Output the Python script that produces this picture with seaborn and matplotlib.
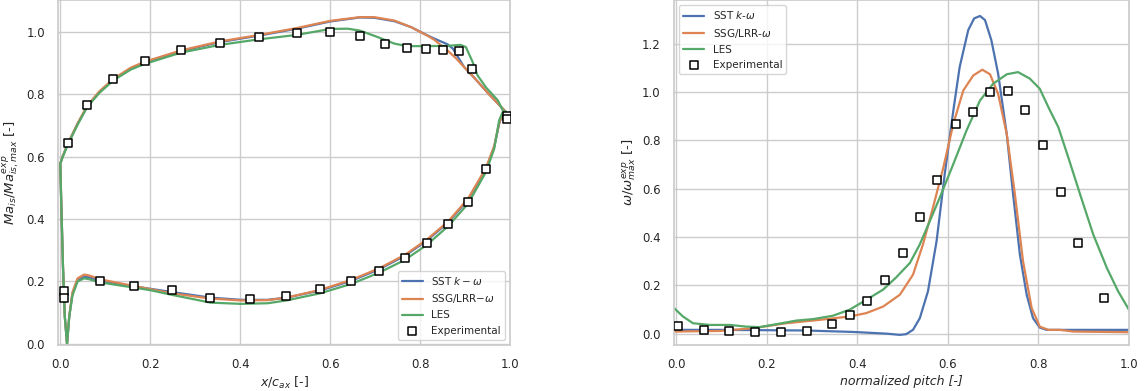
import numpy as np
import pandas as pd
import matplotlib
matplotlib.use("Agg")
import matplotlib.pyplot as plt
import seaborn as sns

# ---------------- Left panel data: isentropic Mach number ----------------
sst_ma_x = [0.991, 0.973, 0.950, 0.921, 0.898, 0.873, 0.861, 0.832, 0.817, 0.780, 0.743, 0.698, 0.666,
            0.600, 0.526, 0.443, 0.355, 0.268, 0.188, 0.157, 0.118, 0.087, 0.060, 0.0385, 0.017, 0.005, 0.0,
            0.002, 0.006, 0.010, 0.015, 0.020, 0.027, 0.0385, 0.053, 0.0645, 0.088, 0.165, 0.248, 0.334,
            0.402, 0.461, 0.503, 0.578, 0.647, 0.709, 0.766, 0.815, 0.863, 0.907, 0.947, 0.965, 0.976,
            0.984, 0.991]
sst_ma_y = [0.744, 0.771, 0.806, 0.853, 0.888, 0.947, 0.961, 0.979, 0.989, 1.016, 1.035, 1.046, 1.047,
            1.034, 1.011, 0.989, 0.968, 0.939, 0.903, 0.884, 0.848, 0.808, 0.762, 0.706, 0.642, 0.600, 0.578,
            0.461, 0.248, 0.088, 0.0, 0.088, 0.160, 0.205, 0.215, 0.213, 0.203, 0.184, 0.166, 0.148,
            0.141, 0.141, 0.148, 0.171, 0.202, 0.239, 0.282, 0.331, 0.390, 0.463, 0.562, 0.632, 0.706,
            0.739, 0.744]

ssg_ma_x = [0.991, 0.973, 0.950, 0.921, 0.898, 0.880, 0.861, 0.832, 0.817, 0.780, 0.743, 0.698, 0.666,
            0.600, 0.526, 0.443, 0.355, 0.268, 0.188, 0.157, 0.118, 0.087, 0.060, 0.0385, 0.017, 0.005, 0.0,
            0.002, 0.006, 0.010, 0.015, 0.020, 0.027, 0.0385, 0.053, 0.0645, 0.088, 0.165, 0.248, 0.334,
            0.402, 0.461, 0.503, 0.578, 0.647, 0.709, 0.766, 0.815, 0.863, 0.907, 0.947, 0.965, 0.976,
            0.984, 0.991]
ssg_ma_y = [0.744, 0.771, 0.806, 0.853, 0.888, 0.916, 0.941, 0.975, 0.988, 1.016, 1.037, 1.048, 1.048,
            1.036, 1.013, 0.991, 0.970, 0.941, 0.905, 0.886, 0.850, 0.810, 0.764, 0.707, 0.643, 0.600, 0.578,
            0.461, 0.248, 0.088, 0.0, 0.090, 0.165, 0.210, 0.222, 0.219, 0.207, 0.185, 0.162, 0.145,
            0.139, 0.140, 0.148, 0.173, 0.205, 0.242, 0.285, 0.334, 0.393, 0.466, 0.565, 0.635, 0.708,
            0.740, 0.744]

les_ma_x = [0.991, 0.984, 0.973, 0.947, 0.928, 0.917, 0.902, 0.890, 0.861, 0.817, 0.772, 0.743, 0.706,
            0.666, 0.639, 0.600, 0.526, 0.443, 0.355, 0.268, 0.188, 0.157, 0.118, 0.087, 0.060, 0.0385,
            0.017, 0.005, 0.0,
            0.002, 0.006, 0.010, 0.015, 0.020, 0.027, 0.0385, 0.053, 0.0645, 0.088, 0.165, 0.200, 0.248,
            0.334, 0.402, 0.461, 0.503, 0.578, 0.647, 0.709, 0.766, 0.815, 0.863, 0.907, 0.947, 0.965,
            0.976, 0.984]
les_ma_y = [0.744, 0.749, 0.781, 0.822, 0.861, 0.904, 0.952, 0.959, 0.956, 0.955, 0.955, 0.963, 0.984,
            1.005, 1.011, 1.010, 0.991, 0.977, 0.959, 0.934, 0.898, 0.880, 0.845, 0.805, 0.760, 0.703,
            0.640, 0.598, 0.578,
            0.461, 0.248, 0.088, 0.0, 0.088, 0.155, 0.200, 0.210, 0.207, 0.197, 0.180, 0.172, 0.157,
            0.132, 0.128, 0.130, 0.139, 0.162, 0.192, 0.228, 0.269, 0.317, 0.378, 0.450, 0.552, 0.626,
            0.717, 0.744]

exp_ma_x = [0.0074, 0.0074, 0.017, 0.060, 0.118, 0.188, 0.268, 0.355, 0.443, 0.526, 0.600, 0.666, 0.723,
            0.772, 0.814, 0.852, 0.887, 0.916, 0.993, 0.993,
            0.088, 0.165, 0.248, 0.334, 0.421, 0.503, 0.578, 0.647, 0.709, 0.766, 0.815, 0.863, 0.907, 0.947]
exp_ma_y = [0.168, 0.148, 0.645, 0.765, 0.851, 0.908, 0.941, 0.966, 0.984, 0.998, 1.000, 0.987, 0.963,
            0.950, 0.946, 0.944, 0.939, 0.883, 0.730, 0.721,
            0.203, 0.185, 0.174, 0.147, 0.143, 0.152, 0.175, 0.202, 0.235, 0.274, 0.322, 0.383, 0.456, 0.562]

# ---------------- Right panel data: loss coefficient over pitch ----------------
sst_w_x = [-0.005, 0.096, 0.287, 0.391, 0.464, 0.494, 0.508, 0.523, 0.538, 0.556, 0.575, 0.593, 0.612,
           0.626, 0.645, 0.658, 0.671, 0.682, 0.696, 0.711, 0.730, 0.744, 0.759, 0.774, 0.788, 0.803,
           0.818, 1.0]
sst_w_y = [0.0166, 0.0166, 0.014, 0.008, 0.001, -0.004, -0.001, 0.017, 0.065, 0.176, 0.383, 0.660, 0.923,
           1.103, 1.256, 1.304, 1.314, 1.297, 1.214, 1.075, 0.826, 0.577, 0.328, 0.162, 0.065, 0.026,
           0.0166, 0.0166]

ssg_w_x = [-0.005, 0.096, 0.169, 0.243, 0.317, 0.383, 0.420, 0.457, 0.494, 0.523, 0.545, 0.567, 0.590,
           0.612, 0.634, 0.656, 0.676, 0.693, 0.711, 0.730, 0.748, 0.766, 0.785, 0.803, 0.822, 0.847,
           0.877, 1.0]
ssg_w_y = [0.0097, 0.012, 0.0235, 0.044, 0.058, 0.072, 0.086, 0.113, 0.162, 0.245, 0.370, 0.522, 0.688,
           0.868, 1.006, 1.068, 1.092, 1.073, 0.992, 0.826, 0.577, 0.300, 0.107, 0.030, 0.0166, 0.0166,
           0.0097, 0.007]

les_w_x = [-0.005, 0.0147, 0.037, 0.074, 0.118, 0.155, 0.184, 0.221, 0.265, 0.302, 0.346, 0.383, 0.420,
           0.457, 0.486, 0.516, 0.538, 0.560, 0.582, 0.612, 0.641, 0.671, 0.700, 0.730, 0.755, 0.781,
           0.803, 0.822, 0.844, 0.866, 0.892, 0.921, 0.951, 0.976, 1.0]
les_w_y = [0.107, 0.072, 0.044, 0.037, 0.037, 0.030, 0.028, 0.040, 0.055, 0.061, 0.075, 0.100, 0.141,
           0.183, 0.234, 0.293, 0.370, 0.466, 0.563, 0.702, 0.840, 0.965, 1.034, 1.073, 1.082, 1.055,
           1.013, 0.937, 0.854, 0.729, 0.577, 0.411, 0.273, 0.176, 0.0997]

exp_w_x = [0.0044, 0.062, 0.117, 0.175, 0.231, 0.288, 0.345, 0.383, 0.421, 0.461, 0.500, 0.539, 0.577,
           0.617, 0.655, 0.693, 0.732, 0.771, 0.810, 0.849, 0.888, 0.944]
exp_w_y = [0.0346, 0.0166, 0.011, 0.007, 0.008, 0.014, 0.0415, 0.079, 0.134, 0.221, 0.334, 0.482, 0.637,
           0.868, 0.919, 1.001, 1.002, 0.926, 0.779, 0.585, 0.374, 0.148]

colors = sns.color_palette("deep")
c_sst, c_ssg, c_les = colors[0], colors[1], colors[2]

sns.set_theme(style="whitegrid", rc={
    "xtick.labelsize": 8.5, "ytick.labelsize": 8.5, "axes.labelsize": 9,
    "legend.fontsize": 7.5, "axes.edgecolor": "0.8", "axes.labelpad": 3,
})
plt.rcParams["font.family"] = ["DejaVu Sans"]

fig = plt.figure(figsize=(11.47, 3.91), dpi=100)
ax1 = fig.add_axes([0.0506, 0.1176, 0.394, 0.8824])
ax2 = fig.add_axes([0.5876, 0.1176, 0.3967, 0.8824])

lw = 1.6
sq = dict(marker="s", s=26, facecolor="white", edgecolor="black", linewidth=1.1, zorder=5)

sns.lineplot(x=sst_ma_x, y=sst_ma_y, sort=False, estimator=None, ax=ax1, color=c_sst, lw=lw,
             label=r"SST $k-\omega$")
sns.lineplot(x=ssg_ma_x, y=ssg_ma_y, sort=False, estimator=None, ax=ax1, color=c_ssg, lw=lw,
             label=r"SSG/LRR$-\omega$")
sns.lineplot(x=les_ma_x, y=les_ma_y, sort=False, estimator=None, ax=ax1, color=c_les, lw=lw,
             label="LES")
sns.scatterplot(x=exp_ma_x, y=exp_ma_y, ax=ax1, label="Experimental", **sq)
ax1.set_xlim(-0.005, 1.0)
ax1.set_ylim(-0.004, 1.103)
ax1.set_xlabel(r"$x/c_{ax}$ [-]")
ax1.set_ylabel(r"$Ma_{is}/Ma_{is,max}^{exp}$ [-]", fontsize=9.5)
ax1.legend(loc="lower right", frameon=True)

sns.lineplot(x=sst_w_x, y=sst_w_y, sort=False, estimator=None, ax=ax2, color=c_sst, lw=lw,
             label=r"SST $k$-$\omega$")
sns.lineplot(x=ssg_w_x, y=ssg_w_y, sort=False, estimator=None, ax=ax2, color=c_ssg, lw=lw,
             label=r"SSG/LRR-$\omega$")
sns.lineplot(x=les_w_x, y=les_w_y, sort=False, estimator=None, ax=ax2, color=c_les, lw=lw,
             label="LES")
sns.scatterplot(x=exp_w_x, y=exp_w_y, ax=ax2, label="Experimental", **sq)
ax2.set_xlim(-0.005, 1.0)
ax2.set_ylim(-0.046, 1.38)
ax2.set_xlabel("normalized pitch [-]", style="italic")
ax2.set_ylabel(r"$\omega/\omega_{max}^{exp}$ [-]", fontsize=9.5)
ax2.legend(loc="upper left", frameon=True)

fig.savefig("out.png", dpi=100)
